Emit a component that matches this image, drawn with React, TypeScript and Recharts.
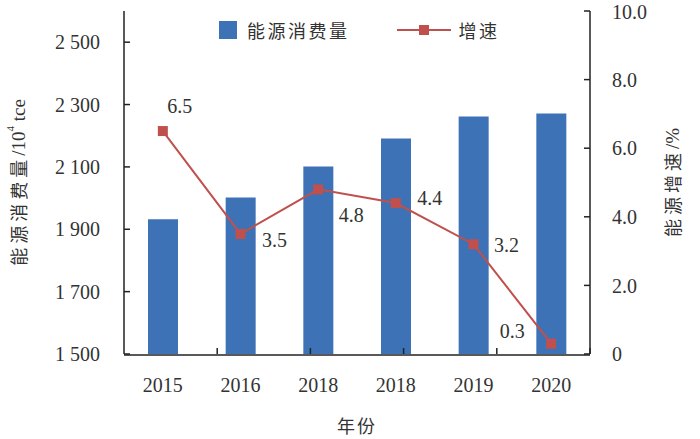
import {
  ComposedChart,
  Bar,
  Line,
  XAxis,
  YAxis,
  Legend,
  LabelList,
} from "recharts";

// years as printed on the source chart (2018 appears twice there)
const YEARS = ["2015", "2016", "2018", "2018", "2019", "2020"];
const CONSUMPTION = [1932, 2002, 2101, 2191, 2262, 2271];
const GROWTH = [6.5, 3.5, 4.8, 4.4, 3.2, 0.3];
const LEFT_TICKS = [1500, 1700, 1900, 2100, 2300, 2500];
const RIGHT_TICKS = [0, 2, 4, 6, 8, 10];
const BOUNDARY_TICKS = [1, 2, 3, 4, 5];

const BLUE = "#3D72B6";
const RED = "#C0504D";
const INK = "#333";
const NUM_FONT = "'Liberation Serif', 'Noto Sans CJK SC', serif";
const CJK_FONT = "'Noto Sans CJK SC', 'Liberation Serif', serif";

// where each growth label sits relative to its point
const LABEL_OFFSETS = [
  { dx: 17, dy: -25 },
  { dx: 34, dy: 6 },
  { dx: 33, dy: 26 },
  { dx: 34, dy: -5 },
  { dx: 33, dy: 1 },
  { dx: -39, dy: -13 },
];

const chartData = YEARS.map((year, i) => ({
  year,
  consumption: CONSUMPTION[i],
  growth: GROWTH[i],
}));

const fmtLeft = (v: number) =>
  `${Math.floor(v / 1000)} ${String(v % 1000).padStart(3, "0")}`;
const fmtRight = (v: number) => (v === 0 ? "0" : v.toFixed(1));

function SquareDot(props: any) {
  const { cx, cy } = props;
  if (cx == null || cy == null) return null;
  return <rect x={cx - 5} y={cy - 5} width={10} height={10} fill={RED} />;
}

function GrowthLabel(props: any) {
  const { x, y, index, value } = props;
  const off = LABEL_OFFSETS[index] ?? { dx: 0, dy: -15 };
  return (
    <text
      x={x + off.dx}
      y={y + off.dy}
      textAnchor="middle"
      dominantBaseline="central"
      fontFamily={NUM_FONT}
      fontSize={20}
      fill={INK}
    >
      {value}
    </text>
  );
}

function LegendContent() {
  const item = { display: "flex", alignItems: "center" } as const;
  const label = {
    fontFamily: CJK_FONT,
    fontSize: 18,
    letterSpacing: 2.5,
    color: INK,
  };
  return (
    <div style={{ display: "flex", alignItems: "center" }}>
      <div style={item}>
        <div style={{ width: 18, height: 18, background: BLUE, marginRight: 10 }} />
        <span style={label}>能源消费量</span>
      </div>
      <div style={{ ...item, marginLeft: 47 }}>
        <svg width={54} height={12} style={{ marginRight: 8 }}>
          <line x1={0} y1={6} x2={54} y2={6} stroke={RED} strokeWidth={2} />
          <rect x={22} y={1} width={10} height={10} fill={RED} />
        </svg>
        <span style={label}>增速</span>
      </div>
    </div>
  );
}

export default function App() {
  return (
    <div style={{ position: "absolute", left: 0, top: 0, background: "#fff" }}>
      <ComposedChart
        width={700}
        height={439}
        data={chartData}
        margin={{ top: 11, right: 0, bottom: 0, left: 0 }}
      >
        <XAxis
          xAxisId="bounds"
          type="number"
          domain={[0, 6]}
          allowDataOverflow
          ticks={BOUNDARY_TICKS}
          tickFormatter={() => ""}
          axisLine={false}
          tickLine={{ stroke: "#222", strokeWidth: 1.5 }}
          tickSize={-6}
          height={1}
        />
        <XAxis
          xAxisId="cat"
          dataKey="year"
          tickLine={false}
          tickSize={0}
          tickMargin={23}
          axisLine={{ stroke: "#222", strokeWidth: 1.5 }}
          tick={{ fontFamily: NUM_FONT, fontSize: 20, fill: INK }}
          height={84}
          interval={0}
          label={(p: any) => {
            const vb = p.viewBox;
            return (
              <text
                x={vb.x + vb.width / 2}
                y={vb.y + 70}
                textAnchor="middle"
                dominantBaseline="central"
                fontFamily={CJK_FONT}
                fontSize={18}
                letterSpacing={2}
                fill={INK}
              >
                年份
              </text>
            );
          }}
        />
        <YAxis
          yAxisId="left"
          orientation="left"
          width={124}
          domain={[1500, 2600]}
          ticks={LEFT_TICKS}
          tickFormatter={fmtLeft}
          tickSize={-6}
          tickMargin={30}
          axisLine={{ stroke: "#222", strokeWidth: 1.5 }}
          tickLine={{ stroke: "#222", strokeWidth: 1.5 }}
          tick={{ fontFamily: NUM_FONT, fontSize: 20, fill: INK }}
          label={(p: any) => {
            const vb = p.viewBox;
            const cx = 18;
            const cy = vb.y + vb.height / 2;
            return (
              <text
                x={cx}
                y={cy}
                transform={`rotate(-90, ${cx}, ${cy})`}
                textAnchor="middle"
                dominantBaseline="central"
                fontFamily={NUM_FONT}
                fontSize={19}
                fill={INK}
              >
                <tspan fontFamily={CJK_FONT} fontSize={18} letterSpacing={4}>
                  能源消费量
                </tspan>
                <tspan>/10</tspan>
                <tspan fontSize={11} dy={-8}>
                  4
                </tspan>
                <tspan dy={8}> tce</tspan>
              </text>
            );
          }}
        />
        <YAxis
          yAxisId="right"
          orientation="right"
          width={110}
          domain={[0, 10]}
          ticks={RIGHT_TICKS}
          tickFormatter={fmtRight}
          tickSize={-6}
          tickMargin={28}
          axisLine={{ stroke: "#222", strokeWidth: 1.5 }}
          tickLine={{ stroke: "#222", strokeWidth: 1.5 }}
          tick={{ fontFamily: NUM_FONT, fontSize: 20, fill: INK, textAnchor: "start" }}
          label={(p: any) => {
            const vb = p.viewBox;
            const cx = vb.x + 82;
            const cy = vb.y + vb.height / 2;
            return (
              <text
                x={cx}
                y={cy}
                transform={`rotate(-90, ${cx}, ${cy})`}
                textAnchor="middle"
                dominantBaseline="central"
                fontFamily={NUM_FONT}
                fontSize={19}
                fill={INK}
              >
                <tspan fontFamily={CJK_FONT} fontSize={18} letterSpacing={4}>
                  能源增速
                </tspan>
                <tspan>/%</tspan>
              </text>
            );
          }}
        />
        <Legend
          layout="vertical"
          verticalAlign="middle"
          align="center"
          wrapperStyle={{ top: 17, left: 219, width: "auto" }}
          content={() => <LegendContent />}
        />
        <Bar
          xAxisId="cat"
          yAxisId="left"
          dataKey="consumption"
          fill={BLUE}
          barSize={30}
          isAnimationActive={false}
        />
        <Line
          xAxisId="cat"
          yAxisId="right"
          dataKey="growth"
          stroke={RED}
          strokeWidth={2}
          dot={<SquareDot />}
          activeDot={false}
          isAnimationActive={false}
        >
          <LabelList dataKey="growth" content={<GrowthLabel />} />
        </Line>
      </ComposedChart>
    </div>
  );
}
